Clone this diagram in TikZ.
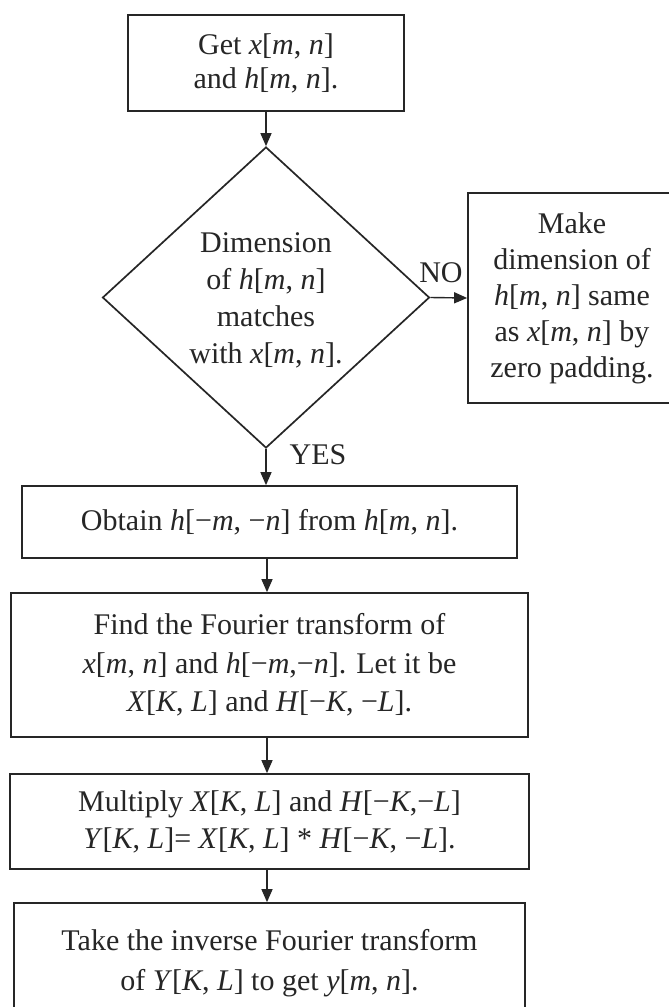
\documentclass[tikz,border=0pt]{standalone}
\usepackage{fontspec}
\setmainfont{Liberation Serif}
\usetikzlibrary{shapes.geometric,arrows.meta}
\newcommand{\itv}[1]{\textit{#1}}
\tikzset{
  ink/.style={black!85},
  txt/.style={ink, align=center, font=\fontsize{30}{37}\selectfont},
  stepbox/.style={txt, draw, line width=1.7pt, rectangle, inner sep=0pt},
  decision/.style={ink, draw, line width=1.7pt, diamond, inner sep=0pt,
    minimum width=327pt, minimum height=301pt},
  flow/.style={ink, line width=1.4pt, -{Triangle[length=13pt,width=11pt]}},
  tag/.style={ink, font=\fontsize{30}{37}\selectfont, inner sep=0pt}
}
\begin{document}
\begin{tikzpicture}[x=1pt,y=-1pt]
\useasboundingbox (0,0) rectangle (669,1007);
\fill[white] (0,0) rectangle (669,1007);
\clip (0,0) rectangle (669,1007);

% process steps
\node[stepbox, minimum width=276pt, minimum height=96pt,
      font=\fontsize{30}{34}\selectfont] (get) at (266,63)
  {Get \itv{x}[\itv{m}, \itv{n}]\\and \itv{h}[\itv{m}, \itv{n}].};

\node[decision] (dec) at (266,297.5) {};
\node[txt] (dectext) at (266,300)
  {Dimension\\of \itv{h}[\itv{m}, \itv{n}]\\matches\\with \itv{x}[\itv{m}, \itv{n}].};

\node[stepbox, minimum width=208pt, minimum height=210pt, font=\fontsize{30}{36}\selectfont] (pad) at (572,298)
  {Make\\dimension of\\\itv{h}[\itv{m}, \itv{n}] same\\as \itv{x}[\itv{m}, \itv{n}] by\\zero padding.};

\node[stepbox, minimum width=495pt, minimum height=72pt] (flip) at (269.5,522)
  {Obtain \itv{h}[−\itv{m}, −\itv{n}] from \itv{h}[\itv{m}, \itv{n}].};

\node[stepbox, minimum width=517pt, minimum height=144pt, font=\fontsize{30}{38.5}\selectfont] (ft) at (269.5,665)
  {Find the Fourier transform of\\\itv{x}[\itv{m}, \itv{n}] and \itv{h}[−\itv{m},−\itv{n}]. Let it be\\\itv{X}[\itv{K}, \itv{L}] and \itv{H}[−\itv{K}, −\itv{L}].};

\node[stepbox, minimum width=519pt, minimum height=95pt] (mul) at (269.5,821.5)
  {Multiply \itv{X}[\itv{K}, \itv{L}] and \itv{H}[−\itv{K},−\itv{L}]\\\itv{Y}[\itv{K}, \itv{L}]= \itv{X}[\itv{K}, \itv{L}] * \itv{H}[−\itv{K}, −\itv{L}].};

\node[stepbox, minimum width=511pt, minimum height=120pt, font=\fontsize{30}{40}\selectfont] (ift) at (269.5,963)
  {Take the inverse Fourier transform\\of \itv{Y}[\itv{K}, \itv{L}] to get \itv{y}[\itv{m}, \itv{n}].};

% connectors
\draw[flow] (get.south) -- (dec.north);
\draw[flow] (dec.east) -- (pad.west);
\coordinate (trunk) at (267,0);
\draw[flow] (dec.south) -- (dec.south |- flip.north);
\draw[flow] (trunk |- flip.south) -- (trunk |- ft.north);
\draw[flow] (trunk |- ft.south) -- (trunk |- mul.north);
\draw[flow] (trunk |- mul.south) -- (trunk |- ift.north);

% branch labels
\node[tag] (no) at (441,273) {NO};
\node[tag] (yes) at (318,455) {YES};
\end{tikzpicture}
\end{document}
